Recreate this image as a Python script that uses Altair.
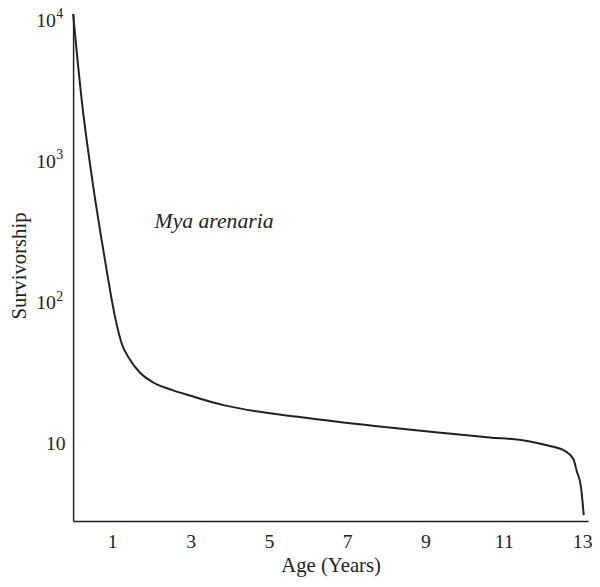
import altair as alt
import pandas as pd

# Survivorship curve of Mya arenaria
age = [0.0, 0.227, 0.496, 0.816, 1.068, 1.234, 1.446, 1.698, 2.033, 2.54,
       3.0, 3.84, 4.68, 5.69, 6.95, 7.70, 9.38, 10.64, 11.48, 11.85, 12.15, 12.57,
       12.78, 12.86, 12.97, 13.04]
survivors = [11000, 2594, 718, 198, 79.8, 52, 39.7, 32.1, 27.3, 24.0,
             21.9, 18.8, 17.0, 15.6, 14.1, 13.4, 12.0, 11.1, 10.6, 10.15, 9.7, 8.87,
             7.76, 6.44, 4.92, 3.13]

x_ticks = [1, 3, 5, 7, 9, 11, 13]
y_ticks = [10, 100, 1000, 10000]
exp_values = [100, 1000, 10000]
exp_text = ["2", "3", "4"]

species = ["Mya arenaria"]
species_x = [2.08]
species_y = [335]

FONT = "Liberation Serif"
INK = "#231f20"

df = pd.DataFrame({"age": age, "surv": survivors})
lab = pd.DataFrame({"age": species_x, "surv": species_y, "name": species})
exps = pd.DataFrame({"age": [0.0] * len(exp_values), "surv": exp_values, "e": exp_text})

x_scale = alt.Scale(domain=[0, 13.15], nice=False, zero=False)
y_scale = alt.Scale(type="log", domain=[2.85, 11020], nice=False)

line = alt.Chart(df).mark_line(
    interpolate="monotone", color=INK, strokeWidth=2
).encode(
    x=alt.X("age:Q", scale=x_scale,
            axis=alt.Axis(values=x_ticks, title="Age (Years)", grid=False,
                          ticks=False, tickSize=0, labelPadding=27,
                          labelBaseline="alphabetic", labelFontSize=20,
                          labelFont=FONT, labelColor=INK,
                          titleFont=FONT, titleFontSize=21, titleFontWeight="normal",
                          titleColor=INK, titleY=51, titleBaseline="alphabetic",
                          domainColor=INK, domainWidth=1.5, labelFlush=False)),
    y=alt.Y("surv:Q", scale=y_scale,
            axis=alt.Axis(values=y_ticks, labelExpr="'10'", title="Survivorship",
                          grid=False, ticks=False, tickSize=0,
                          labelPadding={"condition": {"test": "datum.value == 10", "value": 8},
                                        "value": 18},
                          labelOffset={"condition": {"test": "datum.value == 10000", "value": 1},
                                       "value": 0},
                          labelFontSize=20, labelFont=FONT, labelColor=INK,
                          titleFont=FONT, titleFontSize=21, titleFontWeight="normal",
                          titleColor=INK, titleX=-48, titleY=255,
                          titleBaseline="alphabetic", titleAngle=-90,
                          domainColor=INK, domainWidth=1.5, labelFlush=False)),
)

sup = alt.Chart(exps).mark_text(
    font=FONT, fontSize=14, align="left", baseline="middle", dx=-17, dy=-6,
    color=INK
).encode(
    x=alt.X("age:Q", scale=x_scale),
    y=alt.Y("surv:Q", scale=y_scale),
    text="e:N",
)

text = alt.Chart(lab).mark_text(
    font=FONT, fontSize=22, fontStyle="italic", align="left",
    baseline="alphabetic", color=INK
).encode(
    x=alt.X("age:Q", scale=x_scale),
    y=alt.Y("surv:Q", scale=y_scale),
    text="name:N",
)

chart = alt.layer(line, sup, text).properties(
    width=522, height=514,
    background="white",
    autosize=alt.AutoSizeParams(type="none"),
    padding={"left": 66, "top": 2, "right": 4, "bottom": 63},
).configure_view(strokeWidth=0, stroke="transparent")

chart.save("out.html", embed_options={"renderer": "svg", "actions": False})
